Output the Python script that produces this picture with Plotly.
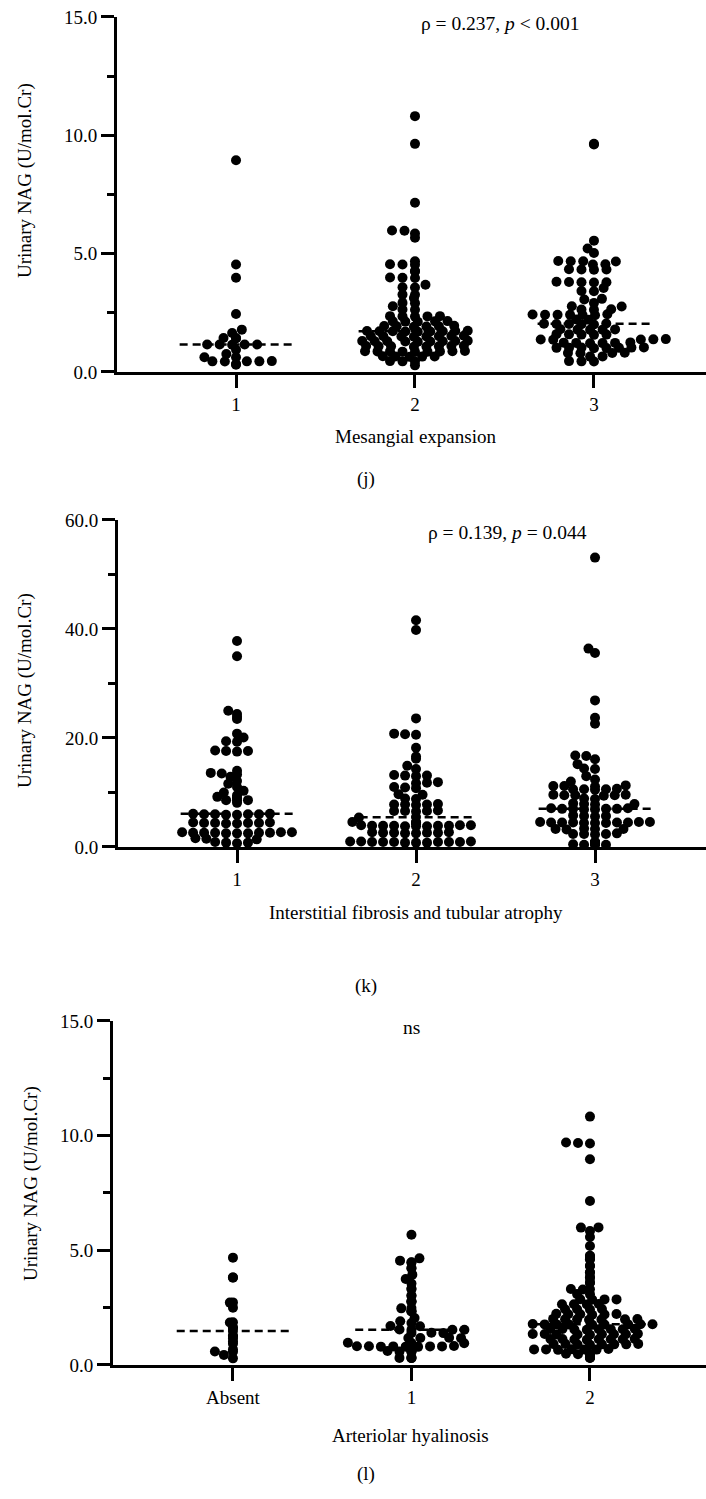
import numpy as np
import plotly.graph_objects as go

W, H = 706, 1499

# ---------------- data ----------------
y_title = "Urinary NAG (U/mol.Cr)"

mes_categories = ["1", "2", "3"]
mes_g1 = [8.95, 4.54, 3.98, 2.45, 1.79, 1.65, 1.44, 1.44, 1.42, 1.16, 1.16, 1.15, 1.16, 1.16,
          0.94, 0.76, 0.62, 0.62, 0.45, 0.45, 0.46, 0.44, 0.45, 0.34, 0.31]
mes_g2 = [10.81, 9.64, 7.15, 5.98, 5.97, 5.85, 5.67, 4.68, 4.55, 4.53, 4.54, 4.27, 4.25,
          3.99, 3.97, 3.98, 3.69, 3.58, 3.57, 3.27, 3.26, 3.13, 2.92, 2.91, 2.78, 2.64, 2.63,
          2.36, 2.35, 2.34, 2.35, 2.36, 2.14, 2.15, 2.13, 2.14, 2.12,
          1.93, 1.94, 1.92, 1.93, 1.95, 1.91,
          1.72, 1.71, 1.73, 1.72, 1.70, 1.74, 1.72, 1.71, 1.73,
          1.51, 1.50, 1.52, 1.51, 1.53, 1.49, 1.51, 1.50,
          1.30, 1.31, 1.29, 1.30, 1.32, 1.28, 1.30, 1.31, 1.29,
          1.09, 1.10, 1.08, 1.09, 1.11, 1.07, 1.09, 1.10,
          0.87, 0.88, 0.86, 0.87, 0.89, 0.85, 0.87, 0.88, 0.86,
          0.66, 0.67, 0.65, 0.66, 0.64, 0.45, 0.46, 0.44, 0.28]
mes_g3 = [9.64, 9.61, 5.55, 5.22, 5.03, 4.68, 4.69, 4.67, 4.68, 4.54, 4.55,
          4.33, 4.34, 4.32, 4.33, 3.79, 3.80, 3.78, 3.79, 3.81, 3.55, 3.41, 3.42,
          3.09, 3.06, 2.92, 2.78, 2.77, 2.64, 2.65, 2.63,
          2.42, 2.43, 2.41, 2.42, 2.44, 2.40, 2.42, 2.21, 2.22,
          2.03, 2.04, 2.02, 2.03, 2.05, 2.01, 1.79, 1.80, 1.78, 1.79, 1.81,
          1.58, 1.59, 1.57, 1.58, 1.60, 1.37, 1.38, 1.36, 1.37, 1.39,
          1.23, 1.24, 1.22, 1.23, 1.25, 1.21,
          1.02, 1.03, 1.01, 1.02, 1.04, 1.00, 1.02, 1.03,
          0.80, 0.81, 0.79, 0.80, 0.66, 0.65, 0.45, 0.46, 0.44]

ifta_categories = ["1", "2", "3"]
ifta_g1 = [37.8, 35.0, 25.0, 24.4, 23.9, 23.5, 20.8, 20.1, 19.4, 19.3, 17.6, 17.5, 17.7, 17.6,
           14.0, 13.6, 13.5, 13.3, 12.9, 12.1, 11.6, 11.0, 10.3, 10.0, 9.5, 9.2, 9.0, 8.9,
           8.6, 8.6, 8.5, 8.1,
           6.0, 6.1, 5.9, 6.0, 6.1, 5.9, 6.0, 6.0,
           4.4, 4.5, 4.3, 4.4, 4.5, 4.3, 4.4, 4.4,
           2.6, 2.7, 2.5, 2.6, 2.7, 2.5, 2.6, 2.6, 2.7, 2.5, 2.6,
           1.5, 1.6, 1.4, 0.8, 0.9, 0.7, 0.8]
ifta_g2 = [41.6, 39.8, 23.6, 20.7, 20.8, 20.6, 18.2, 16.6, 16.2, 14.9, 14.3, 13.1, 13.2, 13.0,
           13.1, 11.8, 11.7, 11.9, 10.9, 11.0, 10.8, 9.7, 9.6, 8.8, 8.9,
           7.8, 7.9, 7.7, 7.8, 7.8, 6.6, 6.7, 6.5, 6.6, 6.6, 5.4, 5.5,
           4.5, 4.6, 4.4, 4.5,
           3.9, 4.0, 3.8, 3.9, 4.0, 3.8, 3.9, 3.9, 4.0, 3.8, 3.9,
           2.6, 2.7, 2.5, 2.6, 2.7, 2.5, 2.6, 2.6,
           0.9, 1.0, 0.8, 0.9, 1.0, 0.8, 0.9, 0.9, 1.0, 0.8, 0.9, 0.9]
ifta_g3 = [53.1, 36.4, 35.6, 26.9, 23.7, 22.6, 16.7, 16.8, 16.1, 15.2, 14.3, 14.4, 13.0, 12.4,
           12.0, 11.2, 11.3, 11.1, 11.2, 10.6, 10.7, 10.5, 10.6, 10.6,
           9.5, 9.6, 9.4, 9.5, 9.5, 9.6, 8.8, 8.9, 7.9, 8.0, 7.8, 7.9,
           7.0, 7.1, 6.9, 7.0, 7.1, 6.9, 7.0, 7.0, 5.7, 5.8, 5.6, 5.7,
           4.5, 4.6, 4.4, 4.5, 4.6, 4.4, 4.5, 4.5, 4.6, 4.4, 4.5,
           3.3, 3.4, 3.2, 3.3, 3.3, 2.4, 2.5, 2.3, 2.4, 2.4,
           0.8, 0.9, 0.7, 0.8, 0.9, 0.7, 0.8, 0.4, 0.5, 0.3, 0.4]

ah_categories = ["Absent", "1", "2"]
ah_g1 = [4.68, 3.81, 3.82, 2.72, 2.73, 2.50, 1.85, 1.86, 1.63, 1.62, 1.48, 1.26, 1.27, 1.16,
         1.02, 0.93, 0.68, 0.58, 0.59, 0.44, 0.29]
ah_g2 = [5.68, 4.65, 4.55, 4.48, 4.47, 4.23, 4.22, 3.94, 3.75, 3.55, 3.32, 3.31, 3.02, 3.03,
         2.77, 2.78, 2.76, 2.48, 2.47, 2.34, 2.35, 2.33, 2.05, 1.91, 1.83, 1.69, 1.70,
         1.54, 1.55, 1.53, 1.54, 1.40, 1.41, 1.39, 1.18, 1.19, 1.17, 1.18, 0.96, 0.97, 0.95,
         0.81, 0.82, 0.80, 0.81, 0.83, 0.79, 0.81, 0.82, 0.80,
         0.59, 0.60, 0.58, 0.59, 0.61, 0.31, 0.32, 0.30, 0.31]
ah_g3 = [10.83, 9.68, 9.70, 9.66, 8.97, 7.15, 5.99, 6.00, 5.84, 5.58, 5.19, 4.75, 4.76, 4.61,
         4.62, 4.32, 4.33, 4.03, 4.04, 3.81, 3.82, 3.59, 3.60, 3.30, 3.31, 3.29, 3.08, 3.09,
         2.86, 2.87, 2.85, 2.86, 2.65, 2.66, 2.64, 2.65, 2.43, 2.44, 2.42, 2.43,
         2.21, 2.22, 2.20, 2.21, 2.23, 2.19, 1.99, 2.00, 1.98, 1.99, 2.01, 1.97, 1.99,
         1.77, 1.78, 1.76, 1.77, 1.79, 1.75, 1.77, 1.78, 1.76,
         1.56, 1.57, 1.55, 1.56, 1.58, 1.54, 1.56, 1.57,
         1.34, 1.35, 1.33, 1.34, 1.36, 1.32, 1.34, 1.35, 1.33,
         1.12, 1.13, 1.11, 1.12, 1.14, 1.10, 1.12, 1.13,
         0.90, 0.91, 0.89, 0.90, 0.92, 0.88, 0.90, 0.91,
         0.68, 0.69, 0.67, 0.68, 0.70, 0.66, 0.68,
         0.47, 0.48, 0.46, 0.47, 0.49, 0.32, 0.33, 0.31]

stat_texts = ["ρ = 0.237, <i>p</i> &lt; 0.001", "ρ = 0.139, <i>p</i> = 0.044", "ns"]
x_titles = ["Mesangial expansion", "Interstitial fibrosis and tubular atrophy", "Arteriolar hyalinosis"]
panel_letters = ["(j)", "(k)", "(l)"]


# vertical pixel positions, corrected for the slight vertical offset seen in the render
def ty(py):
    return (py - 9.0) / 0.986


# ---------------- layout geometry (pixels) ----------------
panels = [
    dict(groups=[mes_g1, mes_g2, mes_g3], cats=mes_categories, ymax=15, dtick=5, minor=2.5,
         xl=117, top=16, bottom=371, xr=[0.335, 3.626], sdx=12.5, sdy=5.3,
         stat=(500, 23), xt=(415, 436), let=(366, 478), yt=(25, 180)),
    dict(groups=[ifta_g1, ifta_g2, ifta_g3], cats=ifta_categories, ymax=60, dtick=20, minor=10,
         xl=118, top=519, bottom=846, xr=[0.335, 3.62], sdx=11.0, sdy=5.5,
         stat=(507, 532), xt=(416, 912), let=(366, 985), yt=(25, 690)),
    dict(groups=[ah_g1, ah_g2, ah_g3], cats=ah_categories, ymax=15, dtick=5, minor=2.5,
         xl=113, top=1020, bottom=1364, xr=[0.328, 3.65], sdx=12.0, sdy=5.3,
         stat=(411, 1027), xt=(410, 1435), let=(366, 1473), yt=(31, 1183)),
]


def swarm_offsets(vals, ppu_y, dx_px=11.0, dy_px=5.5):
    ys = np.asarray(vals, float) * ppu_y
    order = np.argsort(ys, kind="stable")
    xs = np.zeros(len(ys))
    placed = []
    for i in order:
        y = ys[i]
        near = [(px, py) for (px, py) in placed if abs(py - y) < dy_px]
        cands = [0.0]
        for px, py in near:
            d = dx_px * np.sqrt(max(0.0, 1 - ((py - y) / dy_px) ** 2))
            cands.extend([px + d, px - d])
        cands = sorted(set(round(c, 6) for c in cands), key=lambda c: (abs(c), c))
        for c in cands:
            if all(((c - px) / dx_px) ** 2 + ((y - py) / dy_px) ** 2 >= 1 - 1e-9 for px, py in near):
                xs[i] = c
                break
        placed.append((xs[i], y))
    return xs


FONT = "Liberation Serif"
fig = go.Figure()
layout = dict(width=W, height=H, margin=dict(l=0, r=0, t=0, b=0),
              paper_bgcolor="white", plot_bgcolor="white", showlegend=False,
              font=dict(family=FONT, size=19, color="black"))
annotations = []

for k, p in enumerate(panels):
    sfx = "" if k == 0 else str(k + 1)
    xa, ya = "x" + sfx, "y" + sfx
    top, bottom = ty(p["top"]), ty(p["bottom"])
    ppu_y = (bottom - top) / p["ymax"]
    w_px = W - p["xl"]
    ppu_x = w_px / (p["xr"][1] - p["xr"][0])
    for gi, vals in enumerate(p["groups"]):
        c = gi + 1
        offs = swarm_offsets(vals, ppu_y, dx_px=p["sdx"], dy_px=p["sdy"]) / ppu_x
        fig.add_trace(go.Scatter(x=c + offs, y=vals, mode="markers", xaxis=xa, yaxis=ya,
                                 marker=dict(size=10, color="black", line=dict(width=0)),
                                 cliponaxis=False, hoverinfo="skip"))
        med = float(np.median(vals))
        fig.add_trace(go.Scatter(x=[c - 0.315, c + 0.315], y=[med, med], mode="lines",
                                 xaxis=xa, yaxis=ya, cliponaxis=False,
                                 line=dict(color="black", width=2.5, dash="8px,5px"),
                                 hoverinfo="skip"))
    layout["xaxis" + sfx] = dict(
        domain=[p["xl"] / W, 1.0], range=p["xr"], anchor=ya,
        tickmode="array", tickvals=[1, 2, 3], ticktext=p["cats"],
        ticks="outside", ticklen=13, tickwidth=3, tickcolor="black",
        showline=True, linewidth=3, linecolor="black",
        showgrid=False, zeroline=False, tickfont=dict(family=FONT, size=19))
    layout["yaxis" + sfx] = dict(
        domain=[1 - bottom / H, 1 - top / H], range=[0, p["ymax"]], anchor=xa,
        tickmode="linear", tick0=0, dtick=p["dtick"], tickformat=".1f",
        ticks="outside", ticklen=13, tickwidth=3, tickcolor="black",
        minor=dict(dtick=p["minor"], ticks="outside", ticklen=7, tickwidth=3, tickcolor="black"),
        showline=True, linewidth=3, linecolor="black",
        showgrid=False, zeroline=False, tickfont=dict(family=FONT, size=19))

    def ann(text, pos, size=19, angle=0):
        annotations.append(dict(text=text, x=pos[0] / W, y=1 - ty(pos[1]) / H, xref="paper", yref="paper",
                                xanchor="center", yanchor="middle", showarrow=False, textangle=angle,
                                font=dict(family=FONT, size=size, color="black")))

    ann(stat_texts[k], p["stat"], size=19.5)
    ann(x_titles[k], p["xt"])
    ann(panel_letters[k], p["let"])
    ann(y_title, p["yt"], angle=-90)

layout["annotations"] = annotations
fig.update_layout(**layout)

post = ("var css='margin:0;padding:0;overflow:hidden;width:706px;height:1499px;';"
        "document.documentElement.style.cssText=css;"
        "document.body.style.cssText=css+'position:relative;';"
        "var gd=document.getElementById('{plot_id}');"
        "gd.style.position='absolute';gd.style.left='0px';gd.style.top='0px';")
fig.write_html("out.html", config={"displayModeBar": False}, post_script=post)
